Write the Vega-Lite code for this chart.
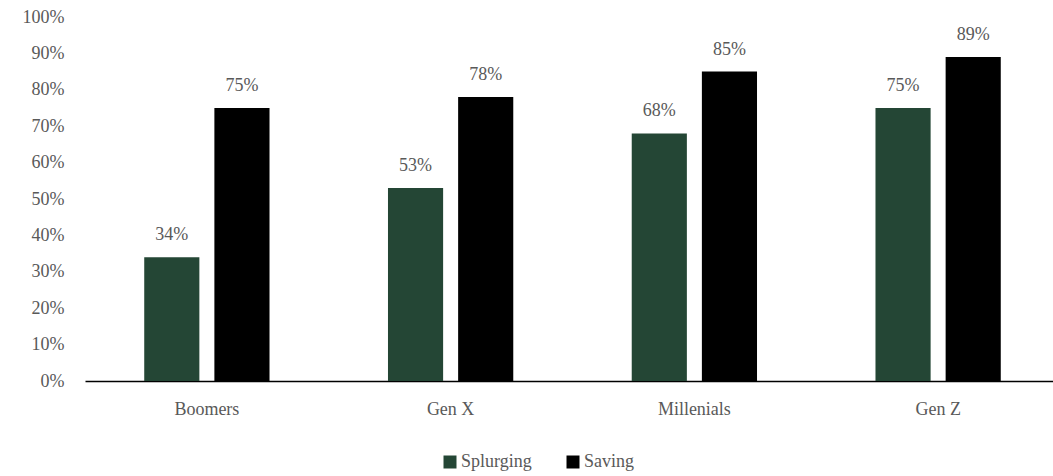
{
  "$schema": "https://vega.github.io/schema/vega-lite/v6.json",
  "width": 975,
  "height": 364,
  "autosize": {"type": "none"},
  "padding": {"left": 85, "top": 17, "right": 0, "bottom": 95},
  "background": "#ffffff",
  "config": {
    "view": {"stroke": null},
    "font": "Liberation Serif",
    "text": {"font": "Liberation Serif"}
  },
  "data": {
    "values": [
      {"generation": "Boomers", "type": "Splurging", "value": 0.34},
      {"generation": "Boomers", "type": "Saving", "value": 0.75},
      {"generation": "Gen X", "type": "Splurging", "value": 0.53},
      {"generation": "Gen X", "type": "Saving", "value": 0.78},
      {"generation": "Millenials", "type": "Splurging", "value": 0.68},
      {"generation": "Millenials", "type": "Saving", "value": 0.85},
      {"generation": "Gen Z", "type": "Splurging", "value": 0.75},
      {"generation": "Gen Z", "type": "Saving", "value": 0.89}
    ]
  },
  "encoding": {
    "x": {
      "field": "generation",
      "type": "nominal",
      "sort": ["Boomers", "Gen X", "Millenials", "Gen Z"],
      "scale": {"paddingInner": 0.486, "paddingOuter": 0.243},
      "axis": {
        "title": null,
        "labelAngle": 0,
        "ticks": false,
        "domainColor": "#000000",
        "domainWidth": 1.5,
        "labelFont": "Liberation Serif",
        "labelFontSize": 18,
        "labelColor": "#595959",
        "labelPadding": 19
      }
    },
    "xOffset": {
      "field": "type",
      "type": "nominal",
      "sort": ["Splurging", "Saving"],
      "scale": {"paddingInner": 0.214, "paddingOuter": 0}
    },
    "y": {
      "field": "value",
      "type": "quantitative",
      "scale": {"domain": [0, 1], "nice": false},
      "axis": {
        "title": null,
        "format": ".0%",
        "values": [0, 0.1, 0.2, 0.3, 0.4, 0.5, 0.6, 0.7, 0.8, 0.9, 1],
        "labelOverlap": false,
        "grid": false,
        "domain": false,
        "ticks": false,
        "labelFont": "Liberation Serif",
        "labelFontSize": 18,
        "labelColor": "#595959",
        "labelPadding": 21
      }
    }
  },
  "layer": [
    {
      "mark": {"type": "bar"},
      "encoding": {
        "color": {
          "field": "type",
          "type": "nominal",
          "sort": ["Splurging", "Saving"],
          "scale": {"domain": ["Splurging", "Saving"], "range": ["#244635", "#000000"]},
          "legend": {
            "title": null,
            "orient": "none",
            "legendX": 356,
            "legendY": 436,
            "direction": "horizontal",
            "symbolType": "square",
            "symbolSize": 169,
            "symbolStrokeWidth": 0,
            "labelFont": "Liberation Serif",
            "labelFontSize": 18,
            "labelColor": "#595959",
            "labelOffset": 2,
            "columnPadding": 32
          }
        }
      }
    },
    {
      "mark": {"type": "text", "baseline": "bottom", "dy": -13, "fontSize": 18, "color": "#595959", "font": "Liberation Serif"},
      "encoding": {
        "text": {"field": "value", "type": "quantitative", "format": ".0%"}
      }
    }
  ]
}
